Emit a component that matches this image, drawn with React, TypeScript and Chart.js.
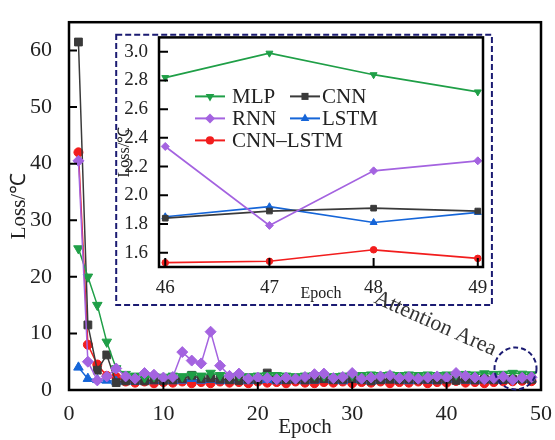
import React, { useEffect, useRef } from 'react';
import { Chart, registerables } from 'chart.js';

Chart.register(...registerables);

// ---------------- data ----------------
const epochs = [
  1, 2, 3, 4, 5, 6, 7, 8, 9, 10, 11, 12, 13, 14, 15, 16, 17, 18, 19, 20,
  21, 22, 23, 24, 25, 26, 27, 28, 29, 30, 31, 32, 33, 34, 35, 36, 37, 38, 39, 40,
  41, 42, 43, 44, 45, 46, 47, 48, 49,
];

const mlpLoss = [
  25.0, 20.0, 15.0, 8.5, 3.8, 2.8, 2.5, 2.2, 2.4, 2.3, 2.5, 2.4, 2.7, 2.5, 3.0, 2.6, 2.4, 2.6, 2.4, 2.5,
  2.6, 2.6, 2.5, 2.4, 2.5, 2.6, 2.5, 2.4, 2.5, 2.6, 2.6, 2.7, 2.6, 2.7, 2.6, 2.7, 2.6, 2.7, 2.6, 2.7,
  2.7, 2.8, 2.7, 2.9, 2.8, 2.82, 2.99, 2.84, 2.72,
];
const cnnLoss = [
  61.5, 11.5, 3.5, 6.2, 1.3, 1.6, 1.7, 1.6, 1.8, 1.7, 1.8, 2.0, 2.6, 2.0, 2.1, 1.9, 1.8, 1.7, 1.9, 1.8,
  3.0, 1.9, 1.8, 1.9, 1.8, 1.9, 2.0, 1.8, 1.9, 2.0, 1.8, 1.6, 1.8, 1.9, 1.8, 1.9, 1.8, 1.9, 1.8, 1.9,
  1.7, 1.9, 1.8, 1.9, 1.8, 1.84, 1.89, 1.91, 1.89,
];
const rnnLoss = [
  40.5, 5.0, 1.7, 2.4, 3.8, 2.4, 2.0, 3.0, 2.7, 2.2, 2.3, 6.7, 5.2, 4.7, 10.3, 4.3, 2.5, 2.9, 2.0, 2.2,
  2.1, 1.9, 2.2, 2.0, 2.3, 2.8, 2.9, 2.1, 2.3, 3.0, 2.0, 2.2, 2.4, 2.6, 2.1, 2.3, 2.0, 2.2, 2.4, 2.2,
  3.0, 2.5, 2.2, 1.9, 2.1, 2.34, 1.79, 2.17, 2.24,
];
const lstmLoss = [
  4.0, 2.0, 1.8, 1.7, 1.5, 1.6, 1.5, 1.7, 1.6, 1.8, 1.6, 1.7, 2.0, 1.7, 1.8, 1.6, 1.7, 1.8, 1.6, 1.7,
  1.8, 1.6, 1.7, 1.8, 1.6, 1.7, 1.8, 1.7, 1.6, 1.8, 1.7, 1.6, 1.7, 1.8, 1.7, 1.6, 1.8, 1.7, 1.6, 1.8,
  2.0, 1.7, 1.6, 1.8, 1.7, 1.85, 1.92, 1.81, 1.88,
];
const cnnLstmLoss = [
  42.0, 8.0, 4.5, 2.5, 2.3, 1.5, 1.3, 1.5, 1.2, 1.4, 1.3, 1.5, 1.2, 1.4, 1.2, 1.5, 1.3, 1.4, 1.2, 1.5,
  1.3, 1.4, 1.2, 1.5, 1.3, 1.2, 1.4, 1.3, 1.5, 1.2, 1.4, 1.3, 1.5, 1.2, 1.4, 1.3, 1.5, 1.2, 1.4, 1.3,
  1.6, 1.3, 1.4, 1.2, 1.4, 1.53, 1.54, 1.62, 1.56,
];

const seriesNames = ['MLP', 'CNN', 'RNN', 'LSTM', 'CNN–LSTM'];

const mainXTicks = [0, 10, 20, 30, 40, 50];
const mainYTicks = [0, 10, 20, 30, 40, 50, 60];
const insetXTicks = [46, 47, 48, 49];
const insetYTicks = [1.6, 1.8, 2.0, 2.2, 2.4, 2.6, 2.8, 3.0];
const insetFirstEpoch = 46;

const axisTitleX = 'Epoch';
const axisTitleY = 'Loss/℃';
const annotationText = 'Attention Area';

// ---------------- styles ----------------
const allSeries = [mlpLoss, cnnLoss, rnnLoss, lstmLoss, cnnLstmLoss];
const seriesStyles = [
  { color: '#1f9f47', pointStyle: 'triangle', rotation: 180, size: 1.0 },
  { color: '#3a3a3a', pointStyle: 'rect', rotation: 0, size: 1.0 },
  { color: '#a463e0', pointStyle: 'rectRot', rotation: 0, size: 1.0 },
  { color: '#1565d8', pointStyle: 'triangle', rotation: 0, size: 1.0 },
  { color: '#f21d1d', pointStyle: 'circle', rotation: 0, size: 0.82 },
];
const drawOrder = [1, 2, 0, 3, 4];
const NAVY = '#1b1b72';
const FONT = '"Liberation Serif", "Times New Roman", serif';
const TEXT = '#222';

const insetBox = { x0: 5.0, x1: 44.8, y0: 15.0, y1: 62.8 };
const focusCircle = { x: 47.3, y: 3.8, r: 21 };
const annotation = { x: 38.8, y: 11.7, angle: 24 };

// legend layout (relative to inset chart area)
const legendLayout = [
  { series: 0, col: 0, row: 0 },
  { series: 1, col: 1, row: 0 },
  { series: 2, col: 0, row: 1 },
  { series: 3, col: 1, row: 1 },
  { series: 4, col: 0, row: 2 },
];
const legendGeom = { left: 36, top: 59, colGap: 95, rowGap: 22, lineLen: 30, textGap: [37, 32] };

function makeDatasets(fromEpoch: number, radius: number, lineWidth: number) {
  return allSeries.map((vals, i) => {
    const st = seriesStyles[i];
    return {
      label: seriesNames[i],
      data: epochs
        .map((e, j) => ({ x: e, y: vals[j] }))
        .filter((p) => p.x >= fromEpoch),
      borderColor: st.color,
      backgroundColor: st.color,
      pointBackgroundColor: st.color,
      pointBorderColor: st.color,
      pointStyle: st.pointStyle as any,
      pointRotation: st.rotation,
      pointRadius: radius * st.size,
      pointBorderWidth: 1,
      borderWidth: lineWidth,
      order: drawOrder[i],
      tension: 0,
    };
  });
}

function drawMarker(ctx: CanvasRenderingContext2D, style: string, rot: number, x: number, y: number, r: number, color: string) {
  ctx.save();
  ctx.fillStyle = color;
  ctx.beginPath();
  if (style === 'triangle') {
    const c = Math.cos(Math.PI / 6) * r;
    if (rot === 180) {
      ctx.moveTo(x, y + r);
      ctx.lineTo(x - c, y - r / 2);
      ctx.lineTo(x + c, y - r / 2);
    } else {
      ctx.moveTo(x, y - r);
      ctx.lineTo(x - c, y + r / 2);
      ctx.lineTo(x + c, y + r / 2);
    }
    ctx.closePath();
  } else if (style === 'rect') {
    const s = r * Math.SQRT1_2;
    ctx.rect(x - s, y - s, 2 * s, 2 * s);
  } else if (style === 'rectRot') {
    ctx.moveTo(x - r, y);
    ctx.lineTo(x, y - r);
    ctx.lineTo(x + r, y);
    ctx.lineTo(x, y + r);
    ctx.closePath();
  } else {
    ctx.arc(x, y, r, 0, Math.PI * 2);
  }
  ctx.fill();
  ctx.restore();
}

function drawFrameAndTicks(chart: any, lw: number, tickLen: number) {
  const { ctx, chartArea: a, scales } = chart;
  ctx.save();
  ctx.strokeStyle = '#000';
  ctx.lineWidth = lw;
  ctx.strokeRect(a.left, a.top, a.right - a.left, a.bottom - a.top);
  ctx.lineWidth = 2;
  ctx.beginPath();
  scales.x.ticks.forEach((t: any) => {
    const px = scales.x.getPixelForValue(t.value);
    ctx.moveTo(px, a.bottom);
    ctx.lineTo(px, a.bottom - tickLen);
  });
  scales.y.ticks.forEach((t: any) => {
    const py = scales.y.getPixelForValue(t.value);
    ctx.moveTo(a.left, py);
    ctx.lineTo(a.left + tickLen, py);
  });
  ctx.stroke();
  ctx.restore();
}

const mainDecor = {
  id: 'mainDecor',
  afterDraw(chart: any) {
    const { ctx, scales } = chart;
    const { x, y } = scales;
    drawFrameAndTicks(chart, 2.5, 8);
    ctx.save();
    // inset box
    ctx.strokeStyle = NAVY;
    ctx.lineWidth = 2;
    ctx.setLineDash([6, 3]);
    const bx0 = x.getPixelForValue(insetBox.x0);
    const bx1 = x.getPixelForValue(insetBox.x1);
    const by0 = y.getPixelForValue(insetBox.y0);
    const by1 = y.getPixelForValue(insetBox.y1);
    ctx.strokeRect(bx0, by1, bx1 - bx0, by0 - by1);
    // focus circle
    ctx.setLineDash([5, 3]);
    ctx.beginPath();
    ctx.arc(x.getPixelForValue(focusCircle.x), y.getPixelForValue(focusCircle.y), focusCircle.r, 0, Math.PI * 2);
    ctx.stroke();
    ctx.setLineDash([]);
    // annotation text
    ctx.translate(x.getPixelForValue(annotation.x), y.getPixelForValue(annotation.y));
    ctx.rotate((annotation.angle * Math.PI) / 180);
    ctx.fillStyle = '#333';
    ctx.font = `22px ${FONT}`;
    ctx.textAlign = 'center';
    ctx.textBaseline = 'middle';
    ctx.fillText(annotationText, 0, 0);
    ctx.restore();
  },
};

const insetDecor = {
  id: 'insetDecor',
  afterDraw(chart: any) {
    const { ctx, chartArea: a } = chart;
    drawFrameAndTicks(chart, 2.5, 9);
    ctx.save();
    ctx.font = `21px ${FONT}`;
    ctx.textBaseline = 'middle';
    ctx.textAlign = 'left';
    legendLayout.forEach((item) => {
      const st = seriesStyles[item.series];
      const x0 = a.left + legendGeom.left + item.col * legendGeom.colGap;
      const yy = a.top + legendGeom.top + item.row * legendGeom.rowGap;
      ctx.strokeStyle = st.color;
      ctx.lineWidth = 2;
      ctx.beginPath();
      ctx.moveTo(x0, yy);
      ctx.lineTo(x0 + legendGeom.lineLen, yy);
      ctx.stroke();
      drawMarker(ctx, st.pointStyle, st.rotation, x0 + legendGeom.lineLen / 2, yy, 5 * st.size, st.color);
      ctx.fillStyle = TEXT;
      ctx.fillText(seriesNames[item.series], x0 + legendGeom.textGap[item.col], yy + 1);
    });
    ctx.restore();
  },
};

export default function App() {
  const mainRef = useRef<HTMLCanvasElement>(null);
  const insetRef = useRef<HTMLCanvasElement>(null);

  useEffect(() => {
    const mainChart = new Chart(mainRef.current as HTMLCanvasElement, {
      type: 'line',
      data: { datasets: makeDatasets(epochs[0], 5.5, 1.5) as any },
      plugins: [mainDecor],
      options: {
        animation: false,
        responsive: false,
        devicePixelRatio: 1,
        layout: { padding: { top: 10, right: 11, left: 0, bottom: 0 } },
        plugins: { legend: { display: false }, tooltip: { enabled: false } },
        scales: {
          x: {
            type: 'linear',
            min: 0,
            max: 50,
            afterBuildTicks: (s: any) => {
              s.ticks = mainXTicks.map((v) => ({ value: v }));
            },
            afterFit: (s: any) => {
              s.height = 50;
            },
            grid: { display: false },
            border: { display: false },
            ticks: { font: { family: FONT, size: 22 }, color: TEXT, padding: 3, maxRotation: 0 },
            title: { display: true, text: axisTitleX, font: { family: FONT, size: 21 }, color: TEXT, padding: 0 },
          },
          y: {
            type: 'linear',
            min: 0,
            max: 65,
            afterBuildTicks: (s: any) => {
              s.ticks = mainYTicks.map((v) => ({ value: v }));
            },
            afterFit: (s: any) => {
              s.width = 69;
            },
            grid: { display: false },
            border: { display: false },
            ticks: { font: { family: FONT, size: 22 }, color: TEXT, padding: 9 },
            title: { display: true, text: axisTitleY, font: { family: FONT, size: 21 }, color: TEXT, padding: { top: 7, bottom: 0 } },
          },
        },
      },
    });

    const insetChart = new Chart(insetRef.current as HTMLCanvasElement, {
      type: 'line',
      data: { datasets: makeDatasets(insetFirstEpoch, 4, 1.7) as any },
      plugins: [insetDecor],
      options: {
        animation: false,
        responsive: false,
        devicePixelRatio: 1,
        layout: { padding: { top: 7, right: 12, left: 0, bottom: 0 } },
        plugins: { legend: { display: false }, tooltip: { enabled: false } },
        scales: {
          x: {
            type: 'linear',
            min: 45.94,
            max: 49.05,
            afterBuildTicks: (s: any) => {
              s.ticks = insetXTicks.map((v) => ({ value: v }));
            },
            afterFit: (s: any) => {
              s.height = 36;
            },
            grid: { display: false },
            border: { display: false },
            ticks: { font: { family: FONT, size: 19 }, color: TEXT, padding: 2, maxRotation: 0 },
            title: { display: true, text: axisTitleX, font: { family: FONT, size: 16 }, color: TEXT, padding: 0 },
          },
          y: {
            type: 'linear',
            min: 1.5,
            max: 3.1,
            afterBuildTicks: (s: any) => {
              s.ticks = insetYTicks.map((v) => ({ value: v }));
            },
            afterFit: (s: any) => {
              s.width = 47;
            },
            grid: { display: false },
            border: { display: false },
            ticks: {
              font: { family: FONT, size: 19 },
              color: TEXT,
              padding: 3,
              callback: (v: any) => Number(v).toFixed(1),
            },
            title: { display: true, text: axisTitleY, font: { family: FONT, size: 16 }, color: TEXT, padding: { top: 3, bottom: 0 } },
          },
        },
      },
    });

    return () => {
      mainChart.destroy();
      insetChart.destroy();
    };
  }, []);

  return (
    <div style={{ position: 'fixed', left: 0, top: 0, width: 555, height: 440, background: '#fff' }}>
      <canvas
        ref={mainRef}
        width={555}
        height={440}
        style={{ position: 'absolute', left: 0, top: 0, width: 555, height: 440 }}
      />
      <canvas
        ref={insetRef}
        width={383}
        height={280}
        style={{ position: 'absolute', left: 112, top: 23, width: 383, height: 280 }}
      />
    </div>
  );
}
